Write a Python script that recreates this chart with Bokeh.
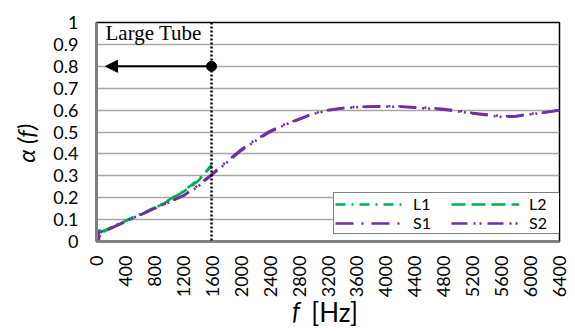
from bokeh.plotting import figure
from bokeh.models import (FixedTicker, Span, Arrow, NormalHead, Label, Legend, LegendItem, Range1d, LinearAxis)
from bokeh.embed import file_html
from bokeh.resources import INLINE

# ---- data ----
freq_L = [0, 20, 40, 60, 100, 200, 300, 400, 500, 600, 700, 800, 900, 1000, 1100, 1200, 1300, 1400, 1500, 1590]
L1 = [0.0, 0.01, 0.06, 0.03, 0.05, 0.065, 0.08, 0.095, 0.11, 0.125, 0.14, 0.155, 0.17, 0.19, 0.21, 0.23, 0.255, 0.28, 0.315, 0.35]
L2 = [0.0, 0.02, 0.055, 0.035, 0.045, 0.06, 0.078, 0.093, 0.108, 0.122, 0.138, 0.153, 0.168, 0.188, 0.207, 0.227, 0.25, 0.275, 0.31, 0.345]

freq_S = [0, 20, 40, 60, 100, 200, 400, 600, 800, 1000, 1200, 1400, 1600, 1800, 2000, 2200, 2400, 2600, 2800,
          3000, 3200, 3400, 3600, 3800, 4000, 4200, 4400, 4600, 4800, 5000, 5200, 5400, 5600, 5800, 6000, 6200, 6400]
S1 = [0.0, 0.04, 0.0, 0.05, 0.045, 0.06, 0.09, 0.12, 0.15, 0.18, 0.21, 0.255, 0.31, 0.365, 0.42, 0.465, 0.505, 0.535, 0.56,
      0.585, 0.6, 0.61, 0.615, 0.617, 0.618, 0.617, 0.613, 0.61, 0.605, 0.597, 0.587, 0.58, 0.572, 0.573, 0.583, 0.59, 0.6]
S2 = [0.0, 0.05, 0.01, 0.045, 0.048, 0.062, 0.092, 0.121, 0.151, 0.178, 0.208, 0.25, 0.305, 0.36, 0.415, 0.46, 0.5, 0.532, 0.557,
      0.583, 0.598, 0.608, 0.613, 0.615, 0.616, 0.615, 0.611, 0.607, 0.602, 0.594, 0.584, 0.577, 0.569, 0.571, 0.581, 0.589, 0.598]

x_ticks = [0, 400, 800, 1200, 1600, 2000, 2400, 2800, 3200, 3600, 4000, 4400, 4800, 5200, 5600, 6000, 6400]
y_ticks = [0, 0.1, 0.2, 0.3, 0.4, 0.5, 0.6, 0.7, 0.8, 0.9, 1.0]
y_tick_labels = ["0", "0.1", "0.2", "0.3", "0.4", "0.5", "0.6", "0.7", "0.8", "0.9", "1"]

cutoff_freq = 1590
arrow_y = 0.8
arrow_end = 125

GREEN = "#00B050"
PURPLE = "#7030A0"
FONT = "Lato"
NB = "\u00a0"

p = figure(width=575, height=331, output_backend="svg", toolbar_location=None,
           x_range=Range1d(0, 6400), y_range=Range1d(0, 1),
           min_border_left=96, min_border_right=16, min_border_top=22, min_border_bottom=89)

p.background_fill_color = "white"
p.border_fill_color = "white"
p.outline_line_color = "black"
p.outline_line_width = 1.5

# grid
p.xgrid.grid_line_color = None
p.ygrid.grid_line_color = "#A6A6A6"
p.ygrid.grid_line_width = 1.5
p.ygrid.ticker = FixedTicker(ticks=y_ticks)

# axes
p.xaxis.ticker = FixedTicker(ticks=x_ticks)
p.yaxis.ticker = FixedTicker(ticks=y_ticks)
p.yaxis.major_label_overrides = {t: l for t, l in zip(y_ticks, y_tick_labels)}
p.xaxis.major_label_orientation = 1.5708
for ax in (p.xaxis, p.yaxis):
    ax.major_tick_line_color = None
    ax.minor_tick_line_color = None
    ax.major_tick_out = 0
    ax.major_tick_in = 0
    ax.axis_line_color = "#808080"
    ax.axis_line_width = 3
    ax.major_label_text_font = FONT
    ax.major_label_text_font_size = "18px"
    ax.major_label_text_color = "black"
p.yaxis.major_label_standoff = 18
p.xaxis.major_label_standoff = 14

p.yaxis.axis_label = "α (f)" + NB * 4
p.yaxis.axis_label_text_font = FONT
p.yaxis.axis_label_text_font_size = "24px"
p.yaxis.axis_label_text_font_style = "italic"
p.yaxis.axis_label_text_color = "black"
p.yaxis.axis_label_standoff = 10

# x axis title: "[Hz]" upright on the main axis, italic "f" on a label-only axis overlaid on the same row
p.xaxis.axis_label = NB * 2 + "[Hz]"
p.xaxis.axis_label_text_font = FONT
p.xaxis.axis_label_text_font_size = "26px"
p.xaxis.axis_label_text_font_style = "normal"
p.xaxis.axis_label_text_color = "black"
p.xaxis.axis_label_standoff = -4

f_axis = LinearAxis(ticker=FixedTicker(ticks=[]), axis_line_color=None,
                    major_tick_line_color=None, minor_tick_line_color=None,
                    major_tick_out=0, major_tick_in=0, major_label_standoff=0,
                    axis_label="f" + NB * 11, axis_label_text_font=FONT,
                    axis_label_text_font_size="25px", axis_label_text_font_style="italic",
                    axis_label_text_color="black", axis_label_standoff=-37)
p.add_layout(f_axis, "below")

# lines
rL1 = p.line(freq_L, L1, line_color=GREEN, line_width=2.5, line_dash="10 6 2 6")
rL2 = p.line(freq_L, L2, line_color=GREEN, line_width=2.5, line_dash="14 6")
rS1 = p.line(freq_S, S1, line_color=PURPLE, line_width=2.5, line_dash="18 8 2 8")
rS2 = p.line(freq_S, S2, line_color=PURPLE, line_width=2.5, line_dash="16 6 2 4 2 6")

# cutoff marker
p.add_layout(Span(location=cutoff_freq, dimension="height", line_color="black",
                  line_width=2.5, line_dash="2 2"))
p.add_layout(Arrow(x_start=cutoff_freq, y_start=arrow_y, x_end=arrow_end, y_end=arrow_y,
                   line_color="black", line_width=2,
                   end=NormalHead(size=12, fill_color="black", line_color="black")))
p.scatter([cutoff_freq], [arrow_y], size=10, color="black")

p.add_layout(Label(x=9, y=197, x_units="screen", y_units="screen", text="Large Tube",
                   text_font="Liberation Serif", text_font_size="21px", text_color="black"))

legend = Legend(items=[LegendItem(label="L1", renderers=[rL1]),
                       LegendItem(label="S1", renderers=[rS1]),
                       LegendItem(label="L2", renderers=[rL2]),
                       LegendItem(label="S2", renderers=[rS2])],
                ncols=2, location=(237, 7))
legend.label_text_font = FONT
legend.label_text_font_size = "16px"
legend.label_text_color = "black"
legend.glyph_width = 68
legend.glyph_height = 16
legend.label_height = 16
legend.label_width = 38
legend.spacing = 0
legend.padding = 1
legend.margin = 0
legend.border_line_color = "black"
legend.border_line_width = 1
legend.label_standoff = 10
legend.background_fill_alpha = 1
p.add_layout(legend)

open("out.html", "w").write(file_html(p, INLINE))
